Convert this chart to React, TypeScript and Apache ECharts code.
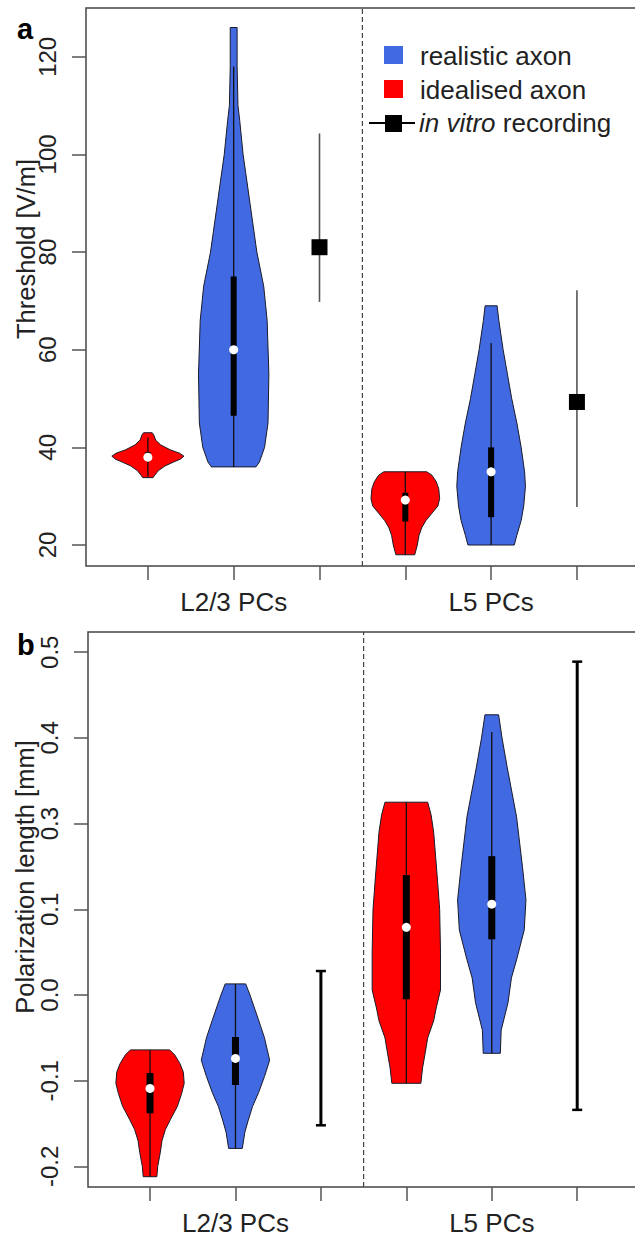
import React, { useEffect, useRef } from "react";
import * as echarts from "echarts";

// ---- shared categories -------------------------------------------------
const tickPositions = [1, 2, 3, 4, 5, 6];
const groupLabels = ["L2/3 PCs", "L5 PCs"];
const groupLabelPositions = [2, 5];
const dividerPosition = 3.5;

const BLUE = "#4169E1";
const RED = "#FF0000";
const FONT = '"Liberation Sans", Arial, Helvetica, sans-serif';

// ---- panel a: threshold [V/m] -----------------------------------------
const thresholdRange = [15.7, 130];
const thresholdTicks = [20, 40, 60, 80, 100, 120];

// violin outlines: [value, half width in slot units]
const thrIdealL23: [number, number][] = [
  [43.0, 0.05], [42.5, 0.07], [41.5, 0.09], [40.5, 0.15], [39.5, 0.26], [38.8, 0.37],
  [38.2, 0.42], [37.6, 0.38], [37.0, 0.3], [36.2, 0.2], [35.2, 0.12], [34.3, 0.08], [33.8, 0.06],
];
const thrRealL23: [number, number][] = [
  [126, 0.04], [118, 0.04], [110, 0.05], [107, 0.07], [100, 0.11], [90, 0.19], [80, 0.27],
  [73, 0.35], [66, 0.39], [55, 0.41], [45, 0.4], [40, 0.36], [37, 0.3], [36, 0.26],
];
const thrIdealL5: [number, number][] = [
  [35, 0.25], [34.3, 0.31], [33, 0.36], [31.5, 0.39], [29.5, 0.4], [28, 0.38], [26.5, 0.31],
  [25, 0.24], [23.5, 0.19], [22, 0.16], [20, 0.14], [18, 0.11],
];
const thrRealL5: [number, number][] = [
  [69, 0.07], [66, 0.09], [60, 0.14], [55, 0.19], [50, 0.24], [45, 0.3], [40, 0.35],
  [35, 0.39], [32, 0.4], [28, 0.38], [25, 0.35], [22, 0.3], [20, 0.27],
];
// [position, lower whisker, q1, median, q3, upper whisker]
const thrBoxes: number[][] = [
  [1, 34, 37.2, 38, 39, 42],
  [2, 36, 46.5, 60, 75, 118],
  [4, 18, 24.8, 29.2, 30.7, 35],
  [5, 20, 25.7, 35, 40, 61.4],
];
// [position, lower, mean, upper]
const thrInVitro: number[][] = [
  [3, 69.8, 81, 104.3],
  [6, 27.8, 49.3, 72.2],
];

// ---- panel b: polarization length [mm] ---------------------------------
const polRange = [-0.224, 0.4236];
const polTickValues = [-0.2, -0.1, 0.0, 0.1, 0.2, 0.3, 0.4];
const polTickLabels = ["-0.2", "-0.1", "0.0", "0.1", "0.3", "0.4", "0.5"];

const polIdealL23: [number, number][] = [
  [-0.064, 0.23], [-0.07, 0.29], [-0.08, 0.35], [-0.09, 0.39], [-0.103, 0.4], [-0.115, 0.37],
  [-0.13, 0.32], [-0.145, 0.24], [-0.157, 0.18], [-0.17, 0.14], [-0.184, 0.12], [-0.2, 0.09],
  [-0.212, 0.08],
];
const polRealL23: [number, number][] = [
  [0.013, 0.12], [0.0, 0.17], [-0.029, 0.27], [-0.05, 0.34], [-0.076, 0.4], [-0.095, 0.34],
  [-0.114, 0.27], [-0.13, 0.2], [-0.146, 0.15], [-0.16, 0.11], [-0.179, 0.08],
];
const polIdealL5: [number, number][] = [
  [0.225, 0.25], [0.21, 0.29], [0.19, 0.32], [0.14, 0.36], [0.1, 0.39], [0.05, 0.4],
  [0.006, 0.4], [-0.015, 0.35], [-0.03, 0.32], [-0.05, 0.25], [-0.068, 0.22], [-0.085, 0.19],
  [-0.103, 0.17],
];
const polRealL5: [number, number][] = [
  [0.327, 0.08], [0.3, 0.12], [0.266, 0.18], [0.208, 0.29], [0.149, 0.36], [0.111, 0.4],
  [0.076, 0.38], [0.041, 0.29], [0.02, 0.23], [-0.009, 0.19], [-0.041, 0.11], [-0.068, 0.1],
];
const polBoxes: number[][] = [
  [1, -0.212, -0.138, -0.109, -0.091, -0.064],
  [2, -0.179, -0.105, -0.074, -0.049, 0.013],
  [4, -0.103, -0.005, 0.079, 0.14, 0.225],
  [5, -0.068, 0.065, 0.106, 0.162, 0.307],
];
// [position, lower, upper]
const polInVitro: number[][] = [
  [3, -0.152, 0.028],
  [6, -0.134, 0.389],
];

// ---- series builders ----------------------------------------------------
function violin(profile: [number, number][], pos: number, color: string, axis: number) {
  return {
    type: "custom",
    xAxisIndex: axis,
    yAxisIndex: axis,
    silent: true,
    z: 2,
    data: profile.map(([v, hw]) => [pos, v, hw]),
    encode: { x: 0, y: 1 },
    renderItem: (params: any, api: any) => {
      if (params.dataIndex !== 0) return null;
      const right = profile.map(([v, hw]) => api.coord([pos + hw, v]));
      const left = profile.map(([v, hw]) => api.coord([pos - hw, v])).reverse();
      return {
        type: "polygon",
        shape: { points: right.concat(left) },
        style: { fill: color, stroke: "#1a1a2a", lineWidth: 1 },
      };
    },
  };
}

function boxes(data: number[][], axis: number, boxW: number, dotR: number) {
  return {
    type: "custom",
    xAxisIndex: axis,
    yAxisIndex: axis,
    silent: true,
    z: 3,
    data,
    encode: { x: 0, y: [1, 2, 3, 4, 5] },
    renderItem: (_p: any, api: any) => {
      const x = api.value(0);
      const lo = api.coord([x, api.value(1)]);
      const q1 = api.coord([x, api.value(2)]);
      const md = api.coord([x, api.value(3)]);
      const q3 = api.coord([x, api.value(4)]);
      const hi = api.coord([x, api.value(5)]);
      return {
        type: "group",
        children: [
          {
            type: "line",
            shape: { x1: lo[0], y1: lo[1], x2: hi[0], y2: hi[1] },
            style: { stroke: "#111", lineWidth: 1.3 },
          },
          {
            type: "rect",
            shape: { x: q3[0] - boxW / 2, y: q3[1], width: boxW, height: q1[1] - q3[1] },
            style: { fill: "#000" },
          },
          {
            type: "circle",
            shape: { cx: md[0], cy: md[1], r: dotR },
            style: { fill: "#fff" },
          },
        ],
      };
    },
  };
}

function divider(range: number[], axis: number) {
  return {
    type: "line",
    xAxisIndex: axis,
    yAxisIndex: axis,
    silent: true,
    symbol: "none",
    z: 1,
    data: [
      [dividerPosition, range[0]],
      [dividerPosition, range[1]],
    ],
    lineStyle: { color: "#444", width: 1.2, type: [5, 3] },
  };
}

function xAxisFor(gridIndex: number, min: number, max: number) {
  return {
    type: "value",
    gridIndex,
    min,
    max,
    splitLine: { show: false },
    axisLine: { show: false, onZero: false },
    axisTick: { show: true, length: 14, customValues: tickPositions, lineStyle: { color: "#555", width: 1.5 } },
    axisLabel: {
      show: true,
      customValues: groupLabelPositions,
      formatter: (v: number) => groupLabels[groupLabelPositions.indexOf(v)] ?? "",
      fontSize: 26,
      color: "#222",
      fontFamily: FONT,
      margin: 23,
    },
  };
}

function yAxisFor(gridIndex: number, range: number[], ticks: number[], fmt: (v: number) => string) {
  return {
    type: "value",
    gridIndex,
    min: range[0],
    max: range[1],
    splitLine: { show: false },
    axisLine: { show: false, onZero: false },
    axisTick: { show: true, length: 14, customValues: ticks, lineStyle: { color: "#555", width: 1.5 } },
    axisLabel: {
      show: true,
      customValues: ticks,
      formatter: fmt,
      rotate: 90,
      fontSize: 24,
      color: "#222",
      fontFamily: FONT,
      margin: 27,
    },
  };
}

export default function App() {
  const ref = useRef<HTMLDivElement>(null);

  useEffect(() => {
    if (!ref.current) return;
    const chart = echarts.init(ref.current, null, { renderer: "svg" });

    const polFmt = (v: number) => {
      const i = polTickValues.findIndex((t) => Math.abs(t - v) < 1e-9);
      return i >= 0 ? polTickLabels[i] : "";
    };

    const gridBase = {
      show: true,
      borderColor: "#444",
      borderWidth: 1.5,
      backgroundColor: "transparent",
      containLabel: false,
      outerBoundsMode: "none",
    };

    const option: any = {
      animation: false,
      backgroundColor: "#fff",
      grid: [
        { ...gridBase, left: 86, top: 8, width: 557, height: 558 },
        { ...gridBase, left: 88, top: 632, width: 555, height: 555 },
      ],
      xAxis: [xAxisFor(0, 0.279, 6.77), xAxisFor(1, 0.274, 6.77)],
      yAxis: [
        yAxisFor(0, thresholdRange, thresholdTicks, (v: number) => String(v)),
        yAxisFor(1, polRange, polTickValues, polFmt),
      ],
      series: [
        divider(thresholdRange, 0),
        violin(thrIdealL23, 1, RED, 0),
        violin(thrRealL23, 2, BLUE, 0),
        violin(thrIdealL5, 4, RED, 0),
        violin(thrRealL5, 5, BLUE, 0),
        boxes(thrBoxes, 0, 6, 4.5),
        {
          type: "custom",
          xAxisIndex: 0,
          yAxisIndex: 0,
          silent: true,
          z: 3,
          data: thrInVitro,
          encode: { x: 0, y: [1, 2, 3] },
          renderItem: (_p: any, api: any) => {
            const x = api.value(0);
            const lo = api.coord([x, api.value(1)]);
            const mn = api.coord([x, api.value(2)]);
            const hi = api.coord([x, api.value(3)]);
            return {
              type: "group",
              children: [
                { type: "line", shape: { x1: lo[0], y1: lo[1], x2: hi[0], y2: hi[1] }, style: { stroke: "#555", lineWidth: 1.6 } },
                { type: "rect", shape: { x: mn[0] - 8, y: mn[1] - 8, width: 16, height: 16 }, style: { fill: "#000" } },
              ],
            };
          },
        },
        divider(polRange, 1),
        violin(polIdealL23, 1, RED, 1),
        violin(polRealL23, 2, BLUE, 1),
        violin(polIdealL5, 4, RED, 1),
        violin(polRealL5, 5, BLUE, 1),
        boxes(polBoxes, 1, 7, 4.5),
        {
          type: "custom",
          xAxisIndex: 1,
          yAxisIndex: 1,
          silent: true,
          z: 3,
          data: polInVitro,
          encode: { x: 0, y: [1, 2] },
          renderItem: (_p: any, api: any) => {
            const x = api.value(0);
            const lo = api.coord([x, api.value(1)]);
            const hi = api.coord([x, api.value(2)]);
            const cap = 5;
            return {
              type: "group",
              children: [
                { type: "line", shape: { x1: lo[0], y1: lo[1], x2: hi[0], y2: hi[1] }, style: { stroke: "#000", lineWidth: 3 } },
                { type: "line", shape: { x1: lo[0] - cap, y1: lo[1], x2: lo[0] + cap, y2: lo[1] }, style: { stroke: "#000", lineWidth: 2.5 } },
                { type: "line", shape: { x1: hi[0] - cap, y1: hi[1], x2: hi[0] + cap, y2: hi[1] }, style: { stroke: "#000", lineWidth: 2.5 } },
              ],
            };
          },
        },
      ],
      graphic: [
        // panel letters
        { type: "text", left: 17, top: 14, style: { text: "a", font: `bold 29px ${FONT}`, fill: "#000" } },
        { type: "text", left: 17, top: 630, style: { text: "b", font: `bold 29px ${FONT}`, fill: "#000" } },
        // axis titles
        {
          type: "text",
          x: 26,
          y: 249,
          rotation: Math.PI / 2,
          style: { text: "Threshold [V/m]", font: `25.5px ${FONT}`, fill: "#222", align: "center", verticalAlign: "middle" },
        },
        {
          type: "text",
          x: 25,
          y: 877,
          rotation: Math.PI / 2,
          style: { text: "Polarization length [mm]", font: `25.5px ${FONT}`, fill: "#222", align: "center", verticalAlign: "middle" },
        },
        // legend
        { type: "rect", shape: { x: 384, y: 46, width: 19, height: 18 }, style: { fill: BLUE } },
        { type: "rect", shape: { x: 384, y: 80, width: 19, height: 18 }, style: { fill: RED } },
        { type: "line", shape: { x1: 369, y1: 123, x2: 415, y2: 123 }, style: { stroke: "#000", lineWidth: 1.8 } },
        { type: "rect", shape: { x: 385, y: 115, width: 17, height: 17 }, style: { fill: "#000" } },
        { type: "text", x: 420, y: 56, style: { text: "realistic axon", font: `26px ${FONT}`, fill: "#222", verticalAlign: "middle" } },
        { type: "text", x: 420, y: 90, style: { text: "idealised axon", font: `26px ${FONT}`, fill: "#222", verticalAlign: "middle" } },
        {
          type: "text",
          x: 419,
          y: 123,
          style: {
            text: "{i|in vitro} recording",
            font: `26px ${FONT}`,
            fill: "#222",
            verticalAlign: "middle",
            rich: { i: { fontStyle: "italic", fontSize: 26, fontFamily: FONT, fill: "#222" } },
          },
        },
      ],
    };

    chart.setOption(option);
    return () => chart.dispose();
  }, []);

  return (
    <div
      ref={ref}
      style={{ position: "absolute", left: 0, top: 0, width: 635, height: 1237, background: "#fff" }}
    />
  );
}
